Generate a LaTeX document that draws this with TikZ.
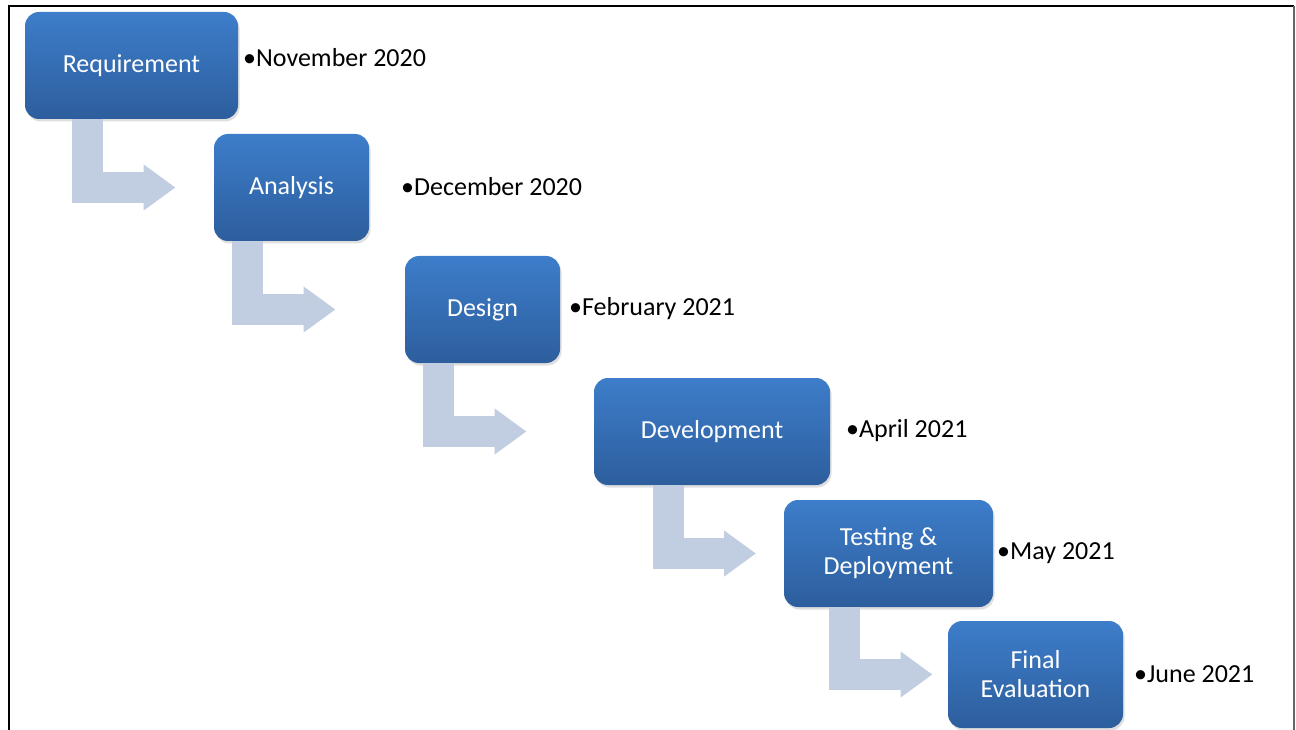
\documentclass[tikz,border=0pt]{standalone}
\usepackage{fontspec}
\setmainfont{Carlito}
\usetikzlibrary{arrows.meta}
\usetikzlibrary{shadows}
\definecolor{boxtop}{RGB}{61,125,202}
\definecolor{boxbot}{RGB}{45,94,157}
\definecolor{flowgray}{RGB}{193,205,225}

\begin{document}
\begin{tikzpicture}
	[x=1pt,y=-1pt,
	phase/.style={rectangle,rounded corners=14pt,top color=boxtop,bottom color=boxbot,text=white,minimum height=107pt,inner sep=0pt,align=center,font=\fontsize{26}{29}\selectfont,drop shadow={opacity=.25,shadow xshift=1.5pt,shadow yshift=-2.5pt}},
	date/.style={anchor=west,inner sep=0pt,text=black,font=\fontsize{26}{29}\selectfont},
	flow/.style={draw=flowgray,line width=31pt,line join=miter,-{Triangle[length=32pt,width=44pt]}}]
	\useasboundingbox (0,0) rectangle (1296,730);
	\draw[line width=1.5pt] (9,730) -- (9,6) -- (1294,6);
	\draw[line width=1.2pt,black!60] (1294,6) -- (1294,730);

	\node[phase,minimum width=213pt] (req) at (131.5,65.5) {Requirement};
	\node[phase,minimum width=155pt] (ana) at (291.5,187.5) {Analysis};
	\node[phase,minimum width=155pt] (des) at (482.5,309.5) {Design};
	\node[phase,minimum width=236pt] (dev) at (712,431.5) {Development};
	\node[phase,minimum width=209pt] (tst) at (888.5,553.5) {Testing \&\\Deployment};
	\node[phase,minimum width=175pt] (fin) at (1035.5,674.5) {Final\\Evaluation};

	\node[date] (d1) at (243,58) {•November 2020};
	\node[date] (d2) at (401,187) {•December 2020};
	\node[date] (d3) at (569,309) {•February 2021};
	\node[date] (d4) at (846,431) {•April 2021};
	\node[date] (d5) at (997,553) {•May 2021};
	\node[date] (d6) at (1134,674) {•June 2021};

	\foreach \from/\to in
	{req/ana, ana/des, des/dev, dev/tst, tst/fin}
	\draw[flow] ([xshift=-44pt]\from.south) |- ([xshift=44pt]\from.south |- \to.west);
\end{tikzpicture}
\end{document}
